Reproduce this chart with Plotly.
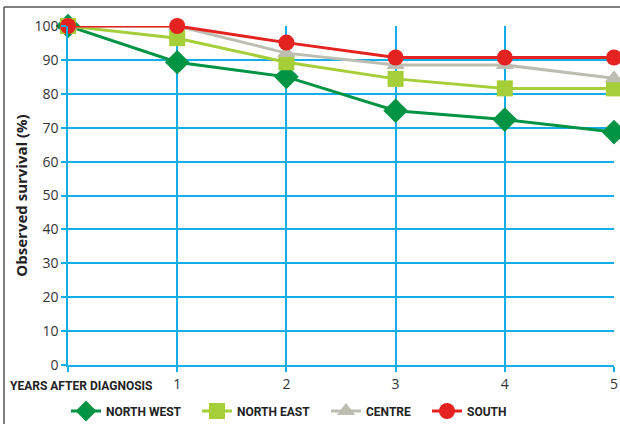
import plotly.graph_objects as go

years = [0, 1, 2, 3, 4, 5]
x_tick_labels = ["", "1", "2", "3", "4", "5"]
y_ticks = [0, 10, 20, 30, 40, 50, 60, 70, 80, 90, 100]

north_west = [100, 89.3, 85.0, 75.0, 72.4, 68.7]
north_east = [100, 96.4, 89.3, 84.4, 81.6, 81.6]
centre = [100, 100, 92.0, 88.5, 88.5, 84.6]
south = [100, 100, 95.1, 90.7, 90.7, 90.7]

series = [
    ("NORTH WEST", north_west, "#009444", "diamond", 19),
    ("NORTH EAST", north_east, "#a6ce39", "square", 16),
    ("CENTRE", centre, "#bdbdb1", "triangle-up", 16),
    ("SOUTH", south, "#e42320", "circle", 16),
]
legend_ids = ["legend", "legend2", "legend3", "legend4"]
legend_text_px = [106, 237, 366, 467]

L, R, T, B = 68, 6, 26, 59
W, H = 620, 424
PW = W - L - R
PH = H - T - B

fig = go.Figure()
for (name, vals, color, sym, size), lid in zip(series, legend_ids):
    fig.add_trace(go.Scatter(
        x=years, y=vals, name=name, mode="lines+markers",
        line=dict(color=color, width=3),
        marker=dict(symbol=sym, size=size, color=color),
        cliponaxis=False, legend=lid,
    ))

legend_font = dict(family="Roboto, DejaVu Sans", size=12, color="#222222", weight="bold")
legend_layout = {}
for lid, tx in zip(legend_ids, legend_text_px):
    legend_layout[lid] = dict(
        orientation="h", x=(tx - 40 - L) / PW, xanchor="left",
        y=-(411 - (T + PH)) / PH, yanchor="middle",
        font=legend_font, itemwidth=30, bgcolor="rgba(0,0,0,0)",
    )

grid = "#12aee8"
fig.update_layout(
    width=W, height=H,
    margin=dict(l=L, r=R, t=T, b=B, autoexpand=False),
    paper_bgcolor="white", plot_bgcolor="white",
    font=dict(family="Open Sans, DejaVu Sans", color="#333333", size=13),
    showlegend=True,
    xaxis=dict(
        range=[0, 5], tickvals=years, ticktext=x_tick_labels,
        showgrid=True, gridcolor=grid, gridwidth=1.5,
        showline=True, linecolor=grid, linewidth=1.5,
        ticks="outside", ticklen=5, tickcolor=grid, tickwidth=1.5,
        tickfont=dict(family="Open Sans, DejaVu Sans", size=14, color="#333333"),
        zeroline=False, mirror=False, automargin=False,
    ),
    yaxis=dict(
        range=[0, 100], tickvals=y_ticks,
        showgrid=True, gridcolor=grid, gridwidth=1.5,
        showline=True, linecolor=grid, linewidth=1.5,
        ticks="outside", ticklen=5, tickcolor=grid, tickwidth=1.5,
        tickfont=dict(family="Open Sans, DejaVu Sans", size=14, color="#333333"),
        zeroline=False, automargin=False,
        title=dict(text="<b>Observed survival (%)</b>", standoff=3,
                   font=dict(family="Open Sans, DejaVu Sans", size=15, color="#222222")),
    ),
    annotations=[
        dict(text="<b>YEARS AFTER DIAGNOSIS</b>", xref="paper", yref="paper",
             x=(155 - L) / PW, y=-(386 - (T + PH)) / PH, xanchor="right", yanchor="middle",
             showarrow=False,
             font=dict(family="Roboto, DejaVu Sans", size=12, color="#222222")),
    ],
    shapes=[
        dict(type="line", xref="paper", yref="paper", x0=(4 - L) / PW, x1=1.02,
             y0=(T + PH - 7) / PH, y1=(T + PH - 7) / PH,
             line=dict(color="#555555", width=1.5)),
        dict(type="line", xref="paper", yref="paper", x0=(4 - L) / PW, x1=(4 - L) / PW,
             y0=(T + PH - 7) / PH, y1=-0.2,
             line=dict(color="#555555", width=1.5)),
    ],
    **legend_layout,
)

fig.write_html("out.html", config={"displayModeBar": False},
               post_script="document.body.style.margin='0';document.body.style.overflow='hidden';")
